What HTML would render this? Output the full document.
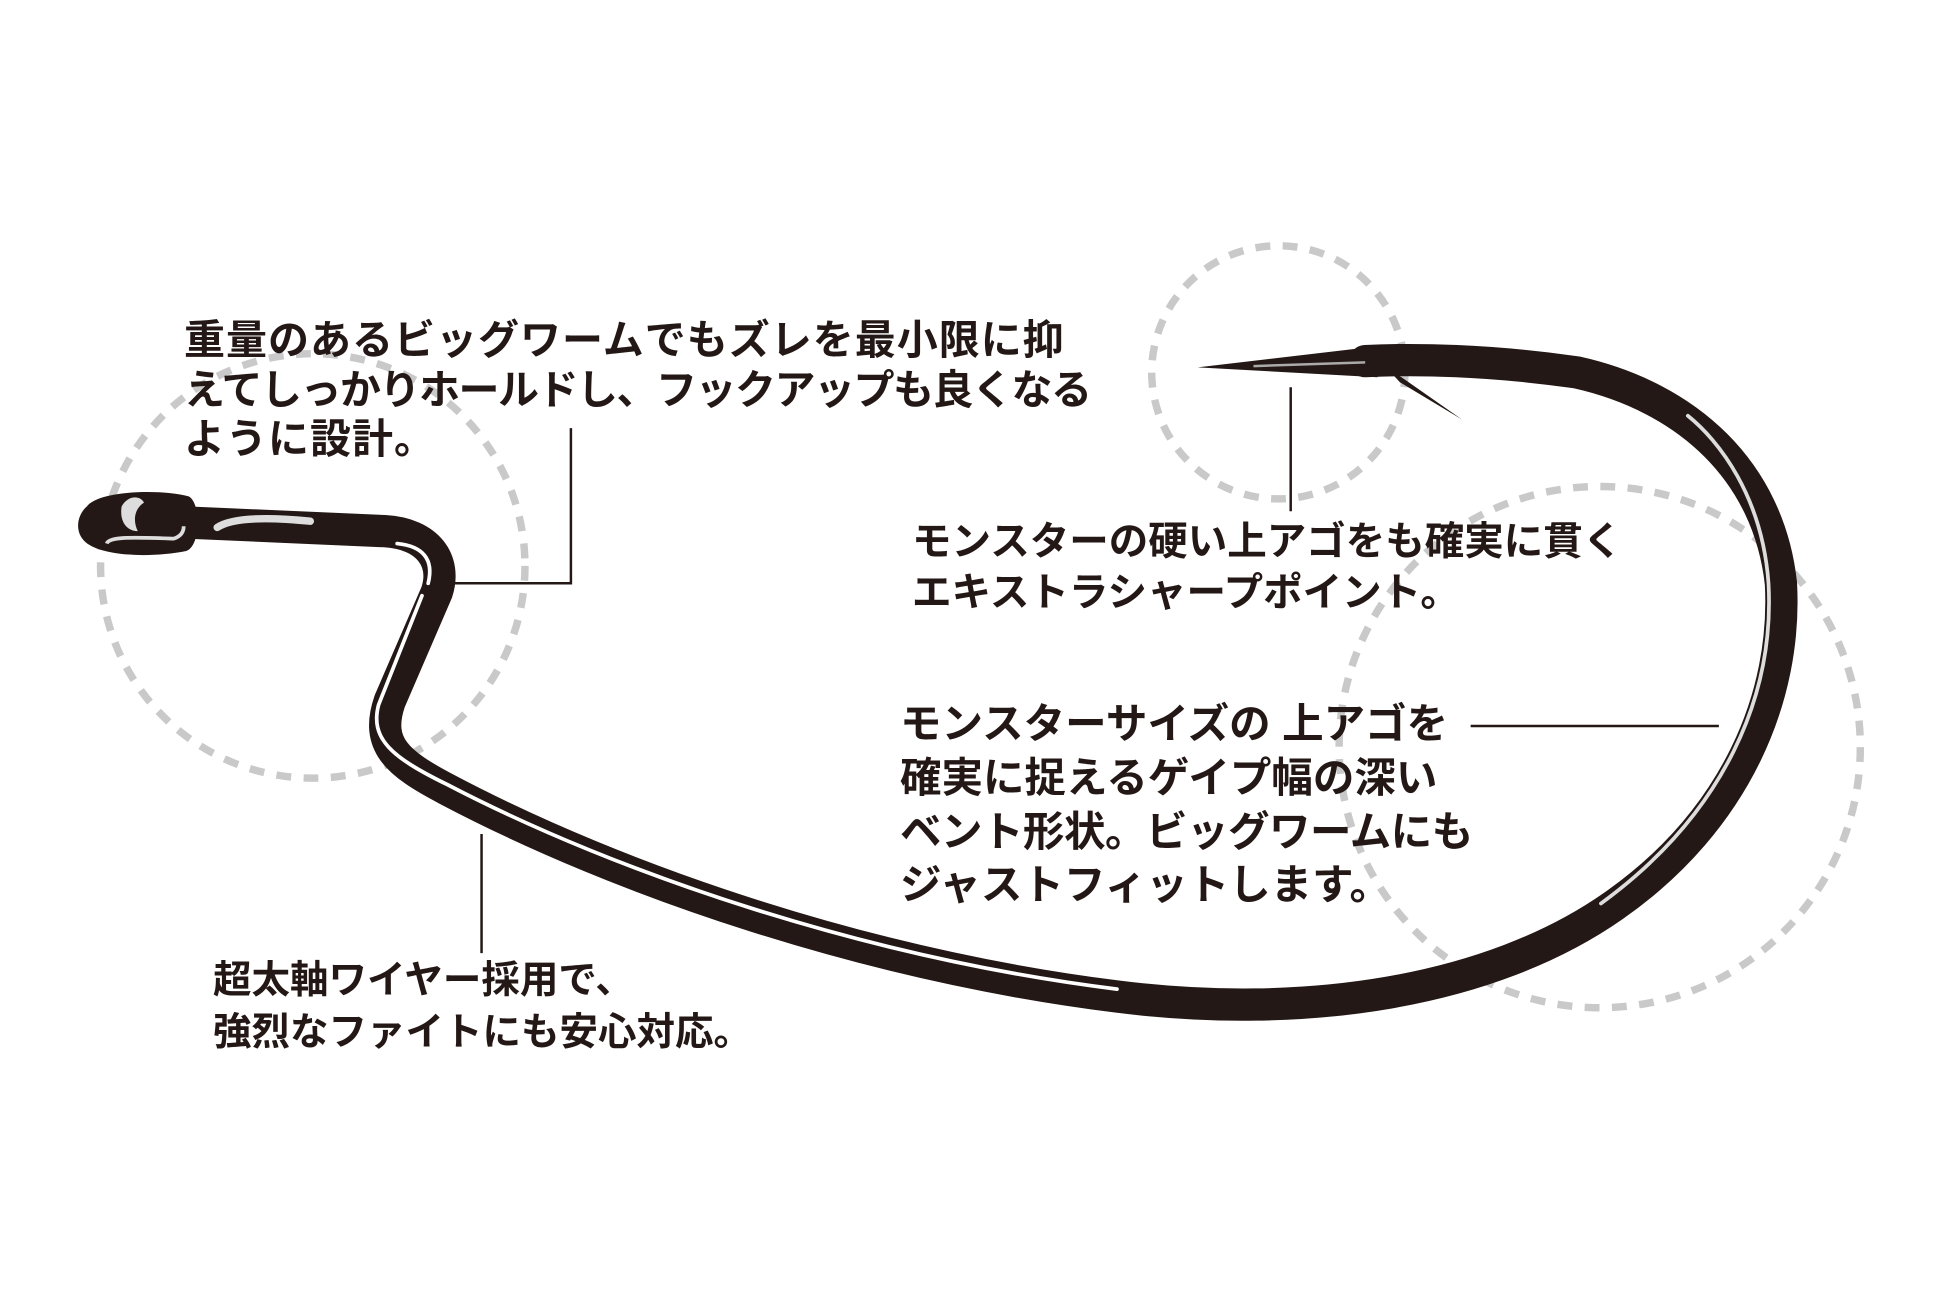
<!DOCTYPE html>
<html><head><meta charset="utf-8"><style>
html,body{margin:0;padding:0;background:#fff;}
body{width:1946px;height:1297px;position:relative;overflow:hidden;font-family:"Liberation Sans","Noto Sans CJK JP",sans-serif;color:#231815;}
svg{position:absolute;left:0;top:0;}
.t{position:absolute;white-space:nowrap;font-weight:bold;}
</style></head><body>
<svg width="1946" height="1297" viewBox="0 0 1568 1045.1">
<g fill="none" stroke="#c9c9c9" stroke-width="6" stroke-dasharray="12 10">
<circle cx="252" cy="456" r="171"/>
<circle cx="1030" cy="300" r="102"/>
<circle cx="1289" cy="602" r="210"/>
</g>
<g fill="none" stroke="#231815" stroke-linecap="round" stroke-linejoin="round">
<path d="M150 421 L310 428 C345 430 360 452 352 477 L314 565 C302 600 320 615 360 636 C500 710 700 778 900 803 C1050 822 1200 800 1300 730 C1400 660 1440 560 1435 470 C1425 380 1360 320 1270 300 C1200 290 1140 289 1100 291" stroke-width="26"/>
</g>
<path d="M1110 279 L965 296 L1110 304 Z" fill="#231815"/>
<path d="M1115 294 L1178 338 L1128 308 Z" fill="#231815"/>
<path d="M1010 295 L1100 292" stroke="#aaa" stroke-width="2" fill="none"/>
<g fill="none" stroke="#fff" stroke-width="3" stroke-linecap="round">
<path d="M345 470 C350 450 340 440 320 438"/>
<path d="M340 480 L305 568 C298 595 315 610 360 632 C500 705 700 772 900 797"/>
<path d="M1290 728 C1390 655 1430 560 1425 470 C1420 400 1385 355 1360 335" stroke="#ddd"/>
<path d="M175 425 C190 415 230 418 250 420" stroke-width="6" stroke="#ddd"/>
</g>
<path d="M70 408 C80 395 130 394 152 400 C162 405 162 440 150 444 C120 450 80 448 68 436 C60 428 62 415 70 408Z" fill="#231815"/>
<path d="M98 408 C103 399 113 399 116 405 C108 410 107 420 111 428 C102 428 96 420 98 408Z" fill="#ddd"/>
<path d="M86 438 C88 432 110 433 140 434 C146 432 148 428 148 424" stroke="#ddd" stroke-width="3" fill="none"/>
<g stroke="#231815" stroke-width="2" fill="none">
<path d="M460 345 V470 H363"/>
<path d="M1040 312 V412"/>
<path d="M1185 585 H1385"/>
<path d="M388 672 V768"/>
</g>
</svg>
<div class="t" style="left:184px;top:316px;font-size:41px;line-height:49.6px;letter-spacing:1px;">重量のあるビッグワームでもズレを最小限に抑<br><span style="letter-spacing:-1.5px">えてしっかりホールドし、フックアップも良くなる</span><br>ように設計。</div>
<div class="t" style="left:912px;top:517px;font-size:39.5px;line-height:51px;">モンスターの硬い上アゴをも確実に貫く<br>エキストラシャープポイント。</div>
<div class="t" style="left:900px;top:697px;font-size:41.5px;line-height:53.8px;">モンスターサイズの 上アゴを<br>確実に捉えるゲイプ幅の深い<br><span style="letter-spacing:-0.5px">ベント形状。ビッグワームにも</span><br>ジャストフィットします。</div>
<div class="t" style="left:213px;top:955px;font-size:38.5px;line-height:52px;">超太軸ワイヤー採用で、<br>強烈なファイトにも安心対応。</div>
</body></html>
